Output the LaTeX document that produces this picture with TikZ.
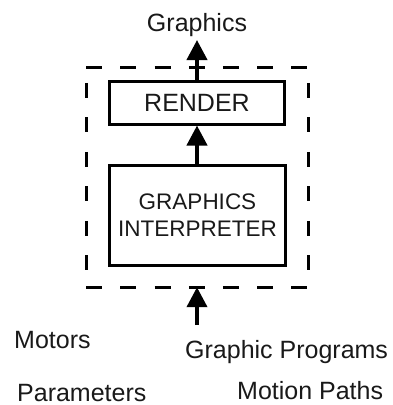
\documentclass[tikz,border=0pt]{standalone}
\usepackage{fontspec}
\setmainfont{Liberation Sans}
\usetikzlibrary{arrows.meta}
\begin{document}
\begin{tikzpicture}[x=1pt,y=-1pt,
  every node/.style={font=\fontsize{25}{27}\selectfont, text=black!90},
  blockbox/.style={draw, line width=3pt, inner sep=0pt, align=center},
  flow/.style={line width=4pt, -{Triangle[length=20pt,width=20pt]}},
  dashh/.style={line width=3pt, dash pattern=on 16pt off 18.17pt},
  dashv/.style={line width=3pt, dash pattern=on 15pt off 19.5pt, dash phase=19.5pt},
  lbl/.style={inner sep=0pt, anchor=base west}]
\useasboundingbox (0,0) rectangle (393,405);
\node[minimum width=221.5pt, minimum height=219pt, inner sep=0pt] (sys) at (197.25,177.5) {};
\draw[dashh] (sys.north west) -- (sys.north east);
\draw[dashh] (sys.south west) -- (sys.south east);
\draw[dashv] (sys.north west) -- (sys.south west);
\draw[dashv] (sys.north east) -- (sys.south east);
\node[blockbox, minimum width=175pt, minimum height=42.5pt] (render) at (197,102.75) {RENDER};
\node[blockbox, minimum width=176pt, minimum height=100pt, font=\fontsize{22.5}{27}\selectfont] (interp) at (197.5,215) {GRAPHICS\\INTERPRETER};
\node[inner sep=0pt, anchor=base] (gfx) at (197,31) {Graphics};
\coordinate (gtip) at (197,40);
\coordinate (intail) at (197,325);
\draw[flow] (render.north -| gtip) -- (gtip);
\draw[flow] (interp.north -| gtip) -- (render.south -| gtip);
\draw[flow] (intail) -- (intail |- sys.south);
\node[lbl] (motors) at (14,348) {Motors};
\node[lbl] (progs) at (185,358) {Graphic Programs};
\node[lbl] (params) at (17,401) {Parameters};
\node[lbl] (paths) at (237,399) {Motion Paths};
\end{tikzpicture}
\end{document}
